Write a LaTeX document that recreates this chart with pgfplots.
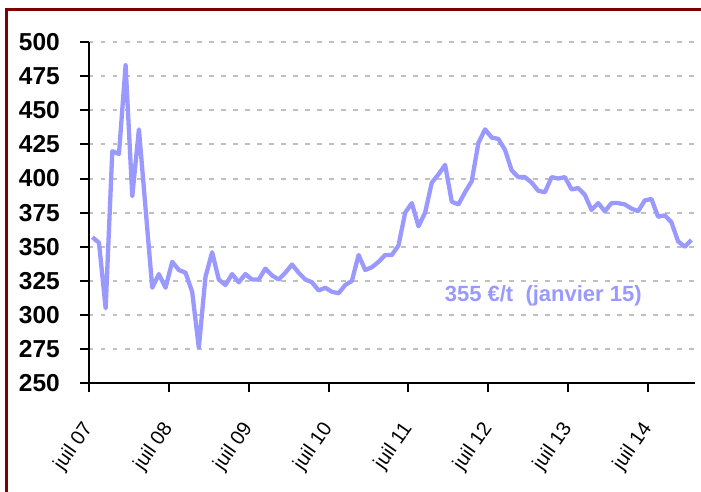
\documentclass[border=0pt]{standalone}
\usepackage{fontspec}
\setmainfont{Liberation Sans}
\usepackage{pgfplots}
\pgfplotsset{compat=1.18}
\usepackage{pgfplotstable}
\definecolor{linec}{RGB}{153,153,255}
\definecolor{framec}{RGB}{128,0,0}
\definecolor{gridc}{RGB}{192,192,192}

\pgfplotstableread{
x y
0.5 357
1.5 353
2.5 305
3.5 420
4.5 418
5.5 483
6.5 387
7.5 436
8.5 378
9.5 320
10.5 330
11.5 320
12.5 339
13.5 333
14.5 331
15.5 317
16.5 276
17.5 328
18.5 346
19.5 326
20.5 322
21.5 330
22.5 324
23.5 330
24.5 326
25.5 326
26.5 334
27.5 329
28.5 326
29.5 331
30.5 337
31.5 331
32.5 326
33.5 324
34.5 318
35.5 320
36.5 317
37.5 316
38.5 322
39.5 325
40.5 344
41.5 333
42.5 335
43.5 339
44.5 344
45.5 344
46.5 351
47.5 375
48.5 382
49.5 365
50.5 375
51.5 397
52.5 403
53.5 410
54.5 383
55.5 381
56.5 390
57.5 398
58.5 426
59.5 436
60.5 430
61.5 429
62.5 421
63.5 406
64.5 401
65.5 401
66.5 397
67.5 391
68.5 390
69.5 401
70.5 400
71.5 401
72.5 392
73.5 393
74.5 388
75.5 377
76.5 382
77.5 376
78.5 382
79.5 382
80.5 381
81.5 378
82.5 376
83.5 384
84.5 385
85.5 372
86.5 373
87.5 368
88.5 354
89.5 350
90.5 355
}\pricedata

\begin{document}
\begin{tikzpicture}[x=1bp,y=1bp]
\begin{axis}[
  scale only axis,
  width=605.7bp, height=341.3bp,
  at={(0,0)}, anchor=south west,
  xmin=0, xmax=91, ymin=250, ymax=500,
  axis x line*=bottom, axis y line*=left,
  axis line style={line width=2bp, black},
  xtick={0,12,...,84},
  xticklabels={juil 07,juil 08,juil 09,juil 10,juil 11,juil 12,juil 13,juil 14},
  ytick={250,275,...,500},
  tick align=outside,
  major tick length=9bp,
  tick style={line width=2bp, black},
  ymajorgrids,
  major grid style={gridc, line width=2bp, dash pattern=on 4.5bp off 7.5bp},
  /pgf/number format/assume math mode=true,
  yticklabel style={font=\fontsize{24.5bp}{28bp}\selectfont\bfseries, anchor=east, inner sep=0pt, xshift=-20bp},
  xticklabel style={font=\fontsize{20bp}{23bp}\selectfont, inner sep=0pt, anchor=east, yshift=-33bp, rotate=55},
]
\addplot[linec, line width=4.3bp, line join=round, mark=none] table[x=x,y=y] {\pricedata};
\node[font=\fontsize{22bp}{26bp}\selectfont\bfseries, text=linec] at (axis cs:68.25,314) {355 €/t\ \ (janvier 15)};
\end{axis}
\draw[framec, line width=3bp] (-82.3,-115) -- (-82.3,373.3) -- (625,373.3);
\pgfresetboundingbox
\useasboundingbox (-89,-108.7) rectangle (612,383.3);
\end{tikzpicture}
\end{document}
